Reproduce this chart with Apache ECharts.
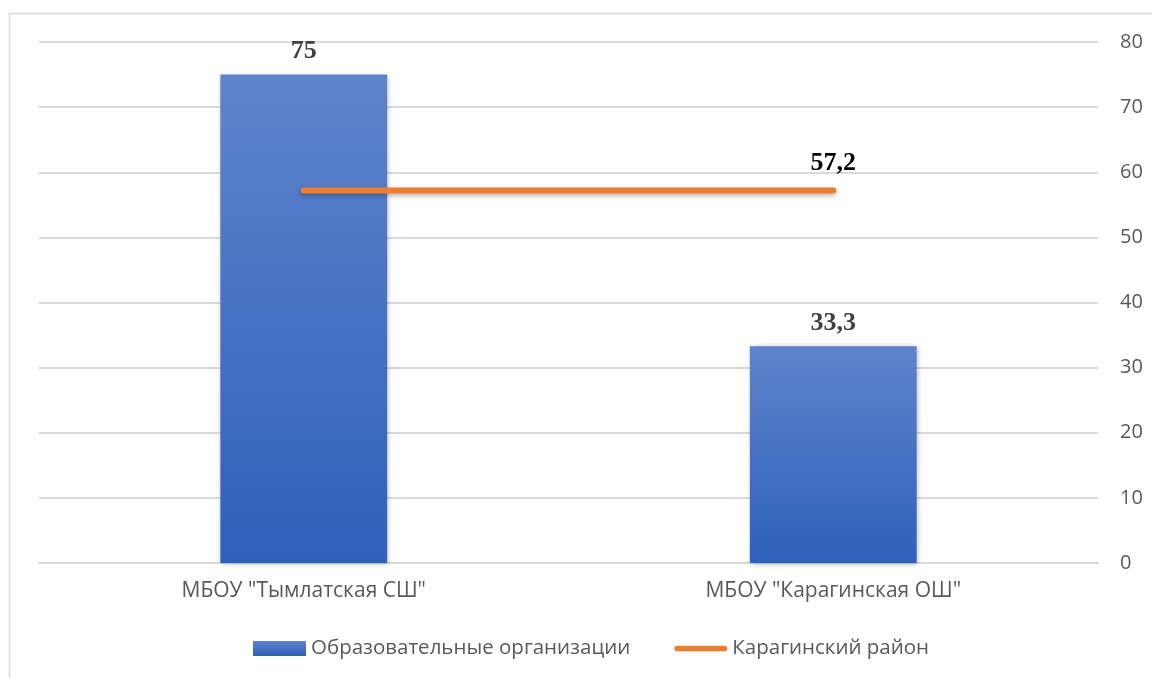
<!DOCTYPE html>
<html>
<head>
<meta charset="utf-8">
<style>
  html, body { margin: 0; padding: 0; background: #fff; }
  #chart { width: 1152px; height: 678px; }
</style>
<script src="https://cdn.jsdelivr.net/npm/echarts@6/dist/echarts.min.js"></script>
</head>
<body>
<div id="chart"></div>
<script>
var categories = ['МБОУ "Тымлатская СШ"', 'МБОУ "Карагинская ОШ"'];
var orgValues = [75, 33.3];
var districtValues = [57.2, 57.2];
var seriesNames = ['Образовательные организации', 'Карагинский район'];

var chart = echarts.init(document.getElementById('chart'));

function comma(v) {
    return String(v).replace('.', ',');
}

var valueLabel = {
    show: true,
    position: 'top',
    fontFamily: 'Liberation Serif',
    fontWeight: 'bold',
    fontSize: 26,
    color: '#404040',
    distance: 10,
    formatter: function (p) { return comma(p.value); }
};

var option = {
    animation: false,
    backgroundColor: '#fff',
    graphic: [{
        type: 'rect',
        shape: { x: 9.5, y: 13.5, width: 1300, height: 800 },
        style: { fill: 'none', stroke: '#d9d9d9', lineWidth: 1.5 },
        z: -1
    }],
    grid: { left: 39, right: 54, top: 42, bottom: 115 },
    legend: {
        bottom: 14,
        left: 248,
        itemGap: 44,
        itemWidth: 53,
        itemHeight: 15,
        textStyle: { fontFamily: 'Open Sans', fontSize: 20.5, color: '#595959' },
        data: [
            { name: seriesNames[0], icon: 'rect' },
            { name: seriesNames[1], icon: 'path://M3,0 L57,0 A3,3 0 0 1 57,6 L3,6 A3,3 0 0 1 3,0 Z' }
        ]
    },
    xAxis: {
        type: 'category',
        data: categories,
        axisLine: { lineStyle: { color: '#d9d9d9', width: 2 } },
        axisTick: { show: false },
        axisLabel: { fontFamily: 'Open Sans', fontSize: 21, color: '#595959', margin: 18 }
    },
    yAxis: {
        type: 'value',
        position: 'right',
        min: 0,
        max: 80,
        interval: 10,
        axisLine: { show: false },
        axisTick: { show: false },
        axisLabel: { fontFamily: 'Open Sans', fontSize: 20, color: '#595959', margin: 22 },
        splitLine: { lineStyle: { color: '#d9d9d9', width: 2 } }
    },
    series: [
        {
            name: seriesNames[0],
            type: 'bar',
            data: orgValues,
            barWidth: '31.5%',
            itemStyle: {
                color: new echarts.graphic.LinearGradient(0, 0, 0, 1, [
                    { offset: 0, color: '#5f83cb' },
                    { offset: 1, color: '#2e61bb' }
                ]),
                shadowColor: 'rgba(0,0,0,0.3)',
                shadowBlur: 5,
                shadowOffsetX: 1,
                shadowOffsetY: 1
            },
            label: valueLabel
        },
        {
            name: seriesNames[1],
            type: 'line',
            data: districtValues,
            symbol: 'circle',
            symbolSize: 1,
            showSymbol: true,
            lineStyle: {
                color: '#ed7d31',
                width: 6,
                cap: 'round',
                shadowColor: 'rgba(0,0,0,0.3)',
                shadowBlur: 5,
                shadowOffsetY: 2
            },
            itemStyle: { color: '#ed7d31' },
            label: Object.assign({}, valueLabel, {
                distance: 14,
                color: '#000',
                formatter: function (p) {
                    return p.dataIndex === districtValues.length - 1 ? comma(p.value) : '';
                }
            })
        }
    ]
};

chart.setOption(option);
</script>
</body>
</html>
